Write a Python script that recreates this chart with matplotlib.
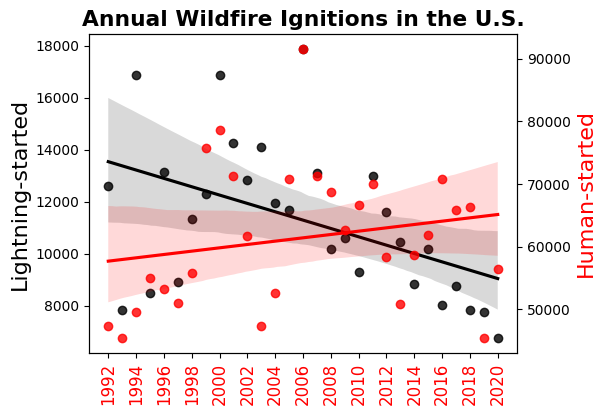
import matplotlib
matplotlib.use("Agg")
import matplotlib.pyplot as plt
import seaborn as sns
import numpy as np

# annual ignitions
years = np.arange(1992, 2021)
lightning = [12600, 7850, 16900, 8500, 13150, 8900, 11350, 12300, 16900, 14250,
             12850, 14100, 11950, 11700, 17900, 13100, 10200, 10600, 9300, 13000,
             11600, 10450, 8850, 10200, 8050, 8750, 7850, 7750, 6750]
human = [47350, 45400, 49650, 55050, 53300, 51100, 55750, 75700, 78600, 71300,
         61650, 47350, 52550, 70800, 91600, 71300, 68700, 62700, 66650, 70050,
         58350, 50900, 58750, 61800, 70750, 65900, 66400, 45400, 56400]
xticks = list(range(1992, 2021, 2))

fig, ax = plt.subplots(figsize=(6, 4.16), dpi=100)
sns.regplot(x=years, y=lightning, ax=ax, color="black", seed=3)
ax.set_ylabel("Lightning-started", fontsize=16)
ax.set_title("Annual Wildfire Ignitions in the U.S.", fontsize=15.7, fontweight="bold")
ax.set_xticks(xticks)
ax.set_xticklabels(xticks, rotation=90, color="red", fontsize=12)

ax2 = ax.twinx()
sns.regplot(x=years, y=human, ax=ax2, color="red", seed=3)
ax2.set_ylabel("Human-started", fontsize=16, color="red")

plt.subplots_adjust(left=0.148, right=0.862, top=0.918, bottom=0.152)
plt.savefig("out.png", dpi=100)
